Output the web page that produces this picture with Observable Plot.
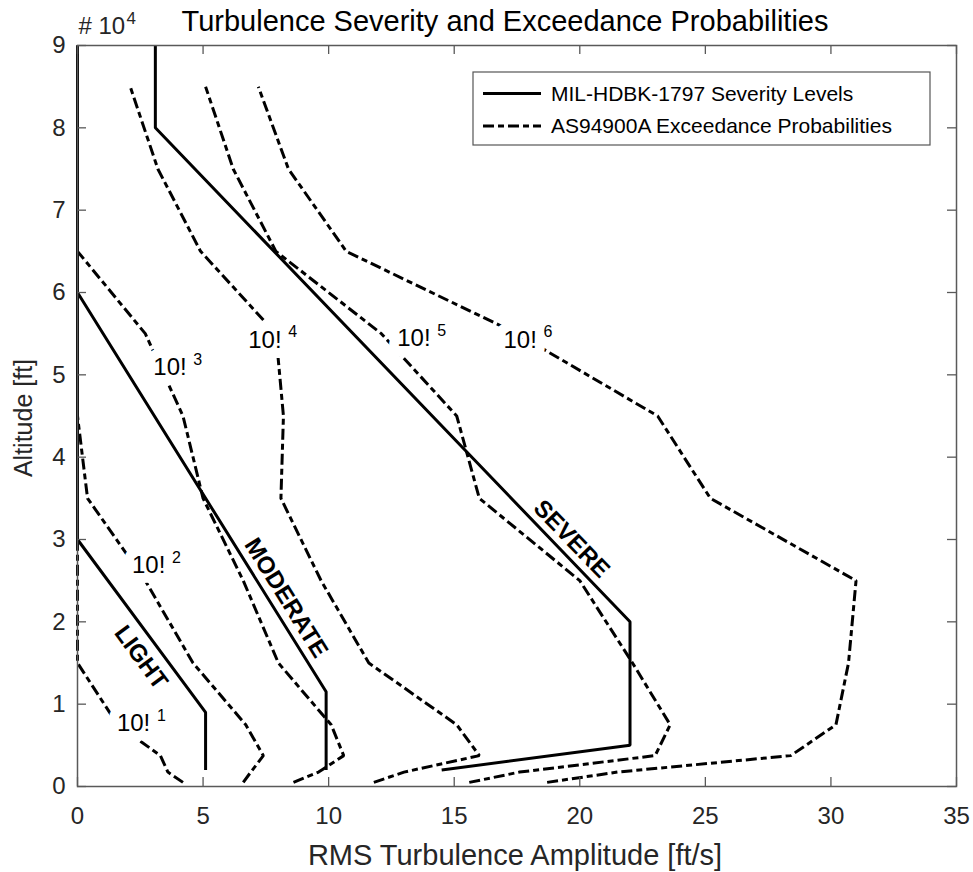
<!DOCTYPE html>
<html><head><meta charset="utf-8">
<script src="https://cdn.jsdelivr.net/npm/d3@7"></script>
<script src="https://cdn.jsdelivr.net/npm/@observablehq/plot@0.6"></script>
<style>
html,body{margin:0;padding:0;background:#fff;}
#chart{position:relative;width:973px;height:872px;}
</style></head><body><div id="chart"></div>
<script>
// ---- data ----
const altitudeFt = [500, 1750, 3750, 7500, 15000, 25000, 35000, 45000, 55000, 65000, 75000, 85000];
const exceed1 = [4.2, 3.6, 3.3, 1.6, 0, 0, 0, 0, 0, 0, 0, 0];
const exceed2 = [6.6, 6.9, 7.4, 6.7, 4.6, 2.7, 0.4, 0, 0, 0, 0, 0];
const exceed3 = [8.6, 9.6, 10.6, 10.1, 8.0, 6.6, 5.0, 4.2, 2.7, 0, 0, 0];
const exceed4 = [11.8, 13.0, 16.0, 15.1, 11.6, 9.7, 8.1, 8.2, 7.9, 4.9, 3.2, 2.1];
const exceed5 = [15.6, 17.6, 23.0, 23.6, 22.1, 20.0, 16.0, 15.1, 12.1, 7.9, 6.2, 5.1];
const exceed6 = [18.7, 21.5, 28.4, 30.2, 30.7, 31.0, 25.2, 23.1, 17.5, 10.7, 8.4, 7.2];

const lightRms = [0, 0, 5.1, 5.1];
const lightAlt = [90000, 30000, 9000, 2000];
const moderateRms = [0, 0, 9.9, 9.9];
const moderateAlt = [90000, 60000, 11500, 2000];
const severeRms = [3.1, 3.1, 22, 22, 14.5];
const severeAlt = [90000, 80000, 20000, 5000, 2000];

const probExponents = ["1", "2", "3", "4", "5", "6"];
const probLabelRms = [1.57, 2.17, 3.02, 6.8, 12.73, 16.96];
const probLabelAlt = [7650, 26840, 50900, 54200, 54400, 54200];

const severityNames = ["LIGHT", "MODERATE", "SEVERE"];
const severityLabelRms = [2.53, 8.31, 19.67];
const severityLabelAlt = [15670, 22900, 30060];

const xTicks = [0, 5, 10, 15, 20, 25, 30, 35];
const yTicks = [0, 10000, 20000, 30000, 40000, 50000, 60000, 70000, 80000, 90000];

const titleText = "Turbulence Severity and Exceedance Probabilities";
const xLabel = "RMS Turbulence Amplitude [ft/s]";
const yLabel = "Altitude [ft]";
const legendLabels = ["MIL-HDBK-1797 Severity Levels", "AS94900A Exceedance Probabilities"];

// ---- build tables ----
const curves = [exceed1, exceed2, exceed3, exceed4, exceed5, exceed6];
const curveData = curves.flatMap((vals, k) => altitudeFt.map((h, i) => ({curve: k, rms: vals[i], alt: h})));
const toPts = (xs, ys) => xs.map((x, i) => ({rms: x, alt: ys[i]}));
const lightPts = toPts(lightRms, lightAlt);
const moderatePts = toPts(moderateRms, moderateAlt);
const severePts = toPts(severeRms, severeAlt);
const labelData = probExponents.map((e, i) => ({base: "10!", exp: e, rms: probLabelRms[i], alt: probLabelAlt[i]}));
const sevData = severityNames.map((n, i) => ({name: n, rms: severityLabelRms[i], alt: severityLabelAlt[i]}));

const W = 973, H = 872, mL = 77, mR = 17, mT = 45, mB = 86;
const plotW = W - mL - mR, plotH = H - mT - mB;
const tickLen = 9;
const axisColor = "#595959";
const dash = "11,4,6,4";
const font = "'Liberation Sans', Arial, Helvetica, sans-serif";

const lineOpts = {x: "rms", y: "alt", stroke: "black", strokeWidth: 3, strokeLinecap: "butt", strokeLinejoin: "miter"};
const sevOpts = {x: "rms", y: "alt", text: "name", fontSize: 24, fontWeight: "bold", lineAnchor: "middle", textAnchor: "middle", fill: "black"};

const chart = Plot.plot({
  width: W, height: H,
  marginLeft: mL, marginRight: mR, marginTop: mT, marginBottom: mB,
  style: {fontFamily: font, background: "white", overflow: "visible"},
  x: {domain: [0, 35]},
  y: {domain: [0, 90000]},
  marks: [
    Plot.line(curveData, {...lineOpts, z: "curve", strokeDasharray: dash}),
    Plot.text(labelData, {x: "rms", y: "alt", text: "base", ariaLabel: "prob-base", textAnchor: "start", lineAnchor: "middle", fontSize: 24, fill: "black", stroke: "white", strokeWidth: 20, strokeLinejoin: "round", paintOrder: "stroke"}),
    Plot.text(labelData, {x: "rms", y: "alt", text: "exp", ariaLabel: "prob-exp", textAnchor: "start", lineAnchor: "middle", dx: 40, dy: -8, fontSize: 16, fill: "black", stroke: "white", strokeWidth: 14, strokeLinejoin: "round", paintOrder: "stroke"}),
    Plot.line(lightPts, lineOpts),
    Plot.line(moderatePts, lineOpts),
    Plot.line(severePts, lineOpts),
    Plot.text([sevData[0]], {...sevOpts, rotate: 53.5}),
    Plot.text([sevData[1]], {...sevOpts, rotate: 58}),
    Plot.text([sevData[2]], {...sevOpts, rotate: 46}),
    // inward ticks on four sides
    Plot.tickX(xTicks, {x: d => d, insetTop: plotH - tickLen, stroke: axisColor, strokeWidth: 1.3}),
    Plot.tickX(xTicks, {x: d => d, insetBottom: plotH - tickLen, stroke: axisColor, strokeWidth: 1.3}),
    Plot.tickY(yTicks, {y: d => d, insetRight: plotW - tickLen, stroke: axisColor, strokeWidth: 1.3}),
    Plot.tickY(yTicks, {y: d => d, insetLeft: plotW - tickLen, stroke: axisColor, strokeWidth: 1.3}),
    Plot.frame({stroke: axisColor, strokeWidth: 1.5}),
    Plot.axisX(xTicks, {anchor: "bottom", tickSize: 0, tickPadding: 20, fontSize: 24, label: null, tickFormat: d => String(d), color: "#262626"}),
    Plot.axisY(yTicks, {anchor: "left", tickSize: 0, tickPadding: 12, fontSize: 24, label: null, tickFormat: d => String(d / 1e4), color: "#262626"}),
    Plot.text(["# 10"], {frameAnchor: "top-left", dx: 1, dy: -19, textAnchor: "start", lineAnchor: "middle", fontSize: 24, fill: "#262626"}),
    Plot.text(["4"], {frameAnchor: "top-left", dx: 49, dy: -27, textAnchor: "start", lineAnchor: "middle", fontSize: 17, fill: "#262626"}),
    Plot.text([titleText], {frameAnchor: "top", dx: -12, dy: -24, textAnchor: "middle", lineAnchor: "middle", fontSize: 29, fill: "black"}),
    Plot.text([xLabel], {frameAnchor: "bottom", dx: -2, dy: 69, textAnchor: "middle", lineAnchor: "middle", fontSize: 29, fill: "#262626"}),
    Plot.text([yLabel], {frameAnchor: "left", dx: -54, dy: 2, rotate: -90, textAnchor: "middle", lineAnchor: "middle", fontSize: 25, fill: "#262626"})
  ]
});
document.getElementById("chart").appendChild(chart);

const svg = d3.select(chart);
// condensed look of the probability labels
svg.selectAll('g[aria-label="prob-base"] text').attr("textLength", 28).attr("lengthAdjust", "spacingAndGlyphs");

// ---- legend (inside the axes, top-right) ----
const lgRight = W - mR - 26, lgTop = mT + 27, lgW = 457, lgH = 73;
const lgLeft = lgRight - lgW;
const lg = svg.append("g").attr("font-family", font).attr("text-anchor", "start");
lg.append("rect").attr("x", lgLeft).attr("y", lgTop).attr("width", lgW).attr("height", lgH)
  .attr("fill", "white").attr("stroke", "#555").attr("stroke-width", 1.2);
const rowsY = [lgTop + 21.5, lgTop + 54];
const dashes = [null, dash];
rowsY.forEach((yy, i) => {
  lg.append("line").attr("x1", lgLeft + 10).attr("x2", lgLeft + 68).attr("y1", yy).attr("y2", yy)
    .attr("stroke", "black").attr("stroke-width", 3).attr("stroke-dasharray", dashes[i]);
  lg.append("text").attr("x", lgLeft + 78).attr("y", yy).attr("dy", "0.35em")
    .attr("text-anchor", "start").attr("font-size", 21).attr("fill", "black").text(legendLabels[i]);
});
</script></body></html>
